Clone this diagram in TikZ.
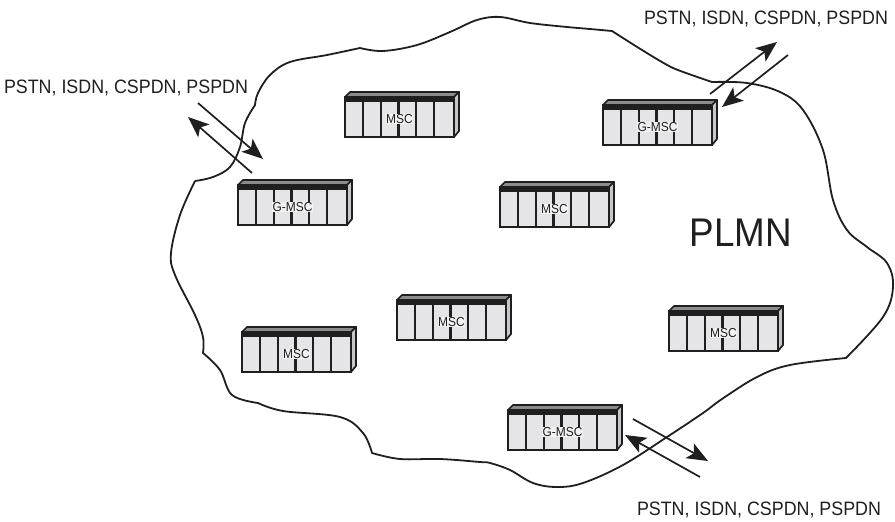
\documentclass[tikz,border=0pt]{standalone}
\usepackage{fontspec}
\setmainfont{Liberation Sans}
\newfontfamily\narrowfont[FakeStretch=0.92]{Liberation Sans}
\usetikzlibrary{arrows.meta}

\definecolor{rackfront}{rgb}{0.90,0.90,0.91}
\definecolor{racktop}{rgb}{0.55,0.55,0.55}
\definecolor{rackside}{rgb}{0.78,0.78,0.78}
\definecolor{rackline}{rgb}{0.12,0.12,0.12}
\definecolor{labelback}{rgb}{0.95,0.95,0.95}

\tikzset{
    netlabel/.style={font=\narrowfont\fontsize{19.4}{21}\selectfont, text=rackline, inner sep=0pt},
    racklabel/.style={font=\narrowfont\fontsize{13}{15}\selectfont, text=rackline, fill=labelback, inner sep=0.5pt},
    linkarrow/.style={rackline, line width=1.7pt, -{Stealth[length=21pt, width=17pt, inset=5pt]}}
}

% #1 name, #2 x, #3 y (front top left), #4 label
\newcommand{\mscrack}[4]{
    \begin{scope}[shift={(#2,#3)}]
        \filldraw[racktop, draw=rackline, line width=1.7pt, line join=round] (0,0) -- (5,-5) -- (114,-5) -- (109,0) -- cycle;
        \filldraw[rackside, draw=rackline, line width=1.7pt, line join=round] (109,0) -- (114,-5) -- (114,34) -- (109,40) -- cycle;
        \filldraw[rackfront, draw=rackline, line width=2pt] (0,0) rectangle (109,40);
        \fill[rackline] (0,0) rectangle (109,5);
        \foreach \x in {18.3,36,53.5,71.3,88.7} {
            \draw[rackline, line width=2.2pt] (\x,0) -- (\x,40);
        }
        \node[racklabel] (#1) at (54.5,22) {#4};
    \end{scope}
}

\begin{document}
\begin{tikzpicture}[x=1pt, y=-1pt]
    \useasboundingbox (0,0) rectangle (895,522);

    % PLMN outline
    \draw[rackline, line width=1.8pt, line join=round]
        plot[smooth, tension=0.6] coordinates {(195,181) (213,177) (230,167) (240,147) (245,123) (255,105)}
        -- plot[smooth, tension=0.6] coordinates {(255,105) (258,93) (270,75) (290,62) (327,55) (360,48)}
        -- plot[smooth, tension=0.6] coordinates {(360,48) (383,51) (417,45) (450,32) (477,20) (500,17) (530,23) (567,27) (590,29) (612,31)}
        -- plot[smooth, tension=0.4] coordinates {(612,31) (642,50) (673,68) (712,82)}
        -- plot[smooth, tension=0.6] coordinates {(712,82) (747,83) (780,92) (803,110) (823,150) (833,200) (847,230) (867,247) (887,263) (893,287) (883,317) (846,358)}
        -- plot[smooth, tension=0.6] coordinates {(846,358) (790,365) (757,377) (722,399) (703,413) (667,437) (623,465) (583,483) (557,487) (533,483) (510,470) (490,463) (480,462) (440,459) (400,459) (372,453)}
        -- plot[smooth, tension=0.6] coordinates {(372,453) (363,433) (340,417) (283,411) (258,403)}
        -- plot[smooth, tension=0.6] coordinates {(258,403) (232,395) (220,370) (203,353)}
        -- plot[smooth, tension=0.6] coordinates {(203,353) (203,337) (195,315) (175,275) (171,253) (180,215) (195,181)};

    \mscrack{msctop}{345}{97}{MSC}
    \mscrack{gmscright}{603}{105}{G-MSC}
    \mscrack{gmscleft}{238}{185}{G-MSC}
    \mscrack{mscmid}{500}{187}{MSC}
    \mscrack{msccenter}{397}{300}{MSC}
    \mscrack{mscleft}{242}{332}{MSC}
    \mscrack{mscright}{669}{311}{MSC}
    \mscrack{gmscbottom}{508}{410}{G-MSC}

    \node[netlabel] (netleft) at (126,88) {PSTN, ISDN, CSPDN, PSPDN};
    \node[netlabel] (netright) at (766,19) {PSTN, ISDN, CSPDN, PSPDN};
    \node[netlabel] (netbottom) at (759,510) {PSTN, ISDN, CSPDN, PSPDN};
    \node[inner sep=0pt, text=rackline, font=\narrowfont\fontsize{40}{44}\selectfont] (plmn) at (741,233) {PLMN};

    \coordinate (ra) at (710,94);
    \coordinate (rb) at (777,42);
    \coordinate (rc) at (788,55);
    \coordinate (rd) at (722,107);
    \coordinate (la) at (198,103);
    \coordinate (lb) at (263,159);
    \coordinate (lc) at (252,173);
    \coordinate (ld) at (188,117);
    \coordinate (ba) at (633,419);
    \coordinate (bb) at (708,461);
    \coordinate (bc) at (700,477);
    \coordinate (bd) at (625,435);

    \draw[linkarrow] (ra) -- (rb);
    \draw[linkarrow] (rc) -- (rd);
    \draw[linkarrow] (la) -- (lb);
    \draw[linkarrow] (lc) -- (ld);
    \draw[linkarrow] (ba) -- (bb);
    \draw[linkarrow] (bc) -- (bd);
\end{tikzpicture}
\end{document}
